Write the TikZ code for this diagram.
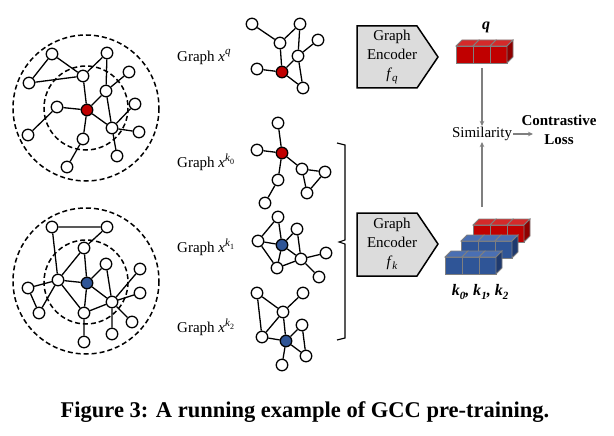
\documentclass[tikz,border=0pt]{standalone}
\usepackage{fontspec}
\setmainfont{Liberation Serif}
\usetikzlibrary{backgrounds,arrows.meta}
\definecolor{gcred}{HTML}{C00000}
\definecolor{gcredtop}{HTML}{D42A2A}
\definecolor{gcredside}{HTML}{8E0000}
\definecolor{gcblue}{HTML}{2F5597}
\definecolor{gcbluetop}{HTML}{4A6FB3}
\definecolor{gcblueside}{HTML}{1F3A6E}
\definecolor{encgray}{HTML}{DCDCDC}
\definecolor{arrgray}{HTML}{7F7F7F}
\newcommand\gcccuberow[6]{% x y front top side count
  \foreach \ci in {1,...,#6}{
    \pgfmathsetmacro\cx{#1+(\ci-1)*17}
    \filldraw[fill=#3,draw=arrgray,line width=0.8pt] (\cx,#2) rectangle ++(17,17);
    \filldraw[fill=#4,draw=arrgray,line width=0.8pt] (\cx,#2) -- ++(6,-6) -- ++(17,0) -- ++(-6,6) -- cycle;
  }
  \pgfmathsetmacro\ex{#1+#6*17}
  \filldraw[fill=#5,draw=arrgray,line width=0.8pt] (\ex,#2) -- ++(6,-6) -- ++(0,17) -- ++(-6,6) -- cycle;
}
\newcommand\gccx[2]{\textit{x}\raisebox{0.42em}{\fontsize{11}{11}\selectfont\textit{#1}\raisebox{-0.28em}{\fontsize{8}{8}\selectfont #2}}}
\newcommand\gccsub[2]{\textit{#1}\raisebox{-0.22em}{\fontsize{11}{11}\selectfont\textit{#2}}}
\newcommand\gcck[1]{\textbf{\textit{k}}\raisebox{-0.22em}{\fontsize{11}{11}\selectfont\textbf{\textit{#1}}}}
\tikzset{
  vtx/.style={circle,draw,line width=1.3pt,fill=white,inner sep=0pt,minimum size=11.5pt},
  rvtx/.style={vtx,fill=gcred},
  bvtx/.style={vtx,fill=gcblue},
  edg/.style={line width=1.3pt},
  ring/.style={dashed,dash pattern=on 5pt off 3pt,line width=1.5pt},
  lbl/.style={font=\fontsize{15}{18}\selectfont,anchor=west,inner sep=0pt},
  enc/.style={fill=encgray,draw=black,line width=1.5pt,line join=miter},
  enctext/.style={font=\fontsize{15}{19}\selectfont,align=center,inner sep=0pt},
  garr/.style={draw=arrgray,line width=1.2pt,-{Stealth[length=5pt,width=4.5pt]}},
}
\begin{document}
\begin{tikzpicture}[x=1pt,y=-1pt]
\useasboundingbox (0,0) rectangle (614,436);
% ---------- top-left graph ----------
\draw[ring] (86,108) circle (73);
\draw[ring] (86,108) circle (42);
\node[rvtx] (t0) at (87,110) {};
\node[vtx] (ta) at (52,54) {};
\node[vtx] (tb) at (107,53) {};
\node[vtx] (tc) at (29,83) {};
\node[vtx] (td) at (83,76) {};
\node[vtx] (te) at (129,72) {};
\node[vtx] (tf) at (106,91) {};
\node[vtx] (tg) at (57,107) {};
\node[vtx] (th) at (135,104) {};
\node[vtx] (ti) at (112,128) {};
\node[vtx] (tj) at (139,132) {};
\node[vtx] (tk) at (28,135) {};
\node[vtx] (tl) at (83,139) {};
\node[vtx] (tm) at (117,156) {};
\node[vtx] (tn) at (67,167) {};
\begin{scope}[on background layer]
\draw[edg] (ta)--(tc) (ta)--(td) (tc)--(td) (td)--(tb) (td)--(t0)
  (tb)--(tf) (tf)--(ti) (tf)--(te) (tf)--(t0) (t0)--(tg) (tg)--(tk)
  (t0)--(tl) (tl)--(tn) (t0)--(ti) (ti)--(th) (ti)--(tj) (ti)--(tm);
\end{scope}
% ---------- bottom-left graph ----------
\draw[ring] (86,281) circle (73);
\draw[ring] (86,282) circle (42);
\node[vtx] (bA) at (52,227) {};
\node[vtx] (bB) at (107,227) {};
\node[vtx] (bC) at (84,248) {};
\node[vtx] (bD) at (106,264) {};
\node[vtx] (bE) at (140,269) {};
\node[vtx] (bF) at (58,280) {};
\node[bvtx] (bG) at (87,283) {};
\node[vtx] (bH) at (28,288) {};
\node[vtx] (bI) at (140,293) {};
\node[vtx] (bJ) at (112,302) {};
\node[vtx] (bK) at (39,313) {};
\node[vtx] (bL) at (84,313) {};
\node[vtx] (bM) at (132,322) {};
\node[vtx] (bN) at (112,334) {};
\node[vtx] (bO) at (84,342) {};
\begin{scope}[on background layer]
\draw[edg] (bA)--(bB) (bA)--(bF) (bB)--(bC) (bC)--(bF) (bC)--(bG)
  (bF)--(bG) (bF)--(bH) (bH)--(bK) (bF)--(bK) (bF)--(bL) (bG)--(bL)
  (bG)--(bD) (bG)--(bJ) (bD)--(bJ) (bL)--(bJ) (bL)--(bO) (bJ)--(bE)
  (bJ)--(bI) (bJ)--(bM) (bJ)--(bN);
\end{scope}
% ---------- graph x^q ----------
\node[lbl] (lq) at (177,57) {Graph \gccx{q}{}};
\node[vtx] (q1) at (252,24) {};
\node[vtx] (q2) at (300,24) {};
\node[vtx] (q3) at (280,43) {};
\node[vtx] (q4) at (318,40) {};
\node[vtx] (q5) at (298,56) {};
\node[vtx] (q6) at (257,69) {};
\node[rvtx] (q0) at (282,72) {};
\node[vtx] (q8) at (303,88) {};
\begin{scope}[on background layer]
\draw[edg] (q1)--(q3) (q3)--(q2) (q2)--(q5) (q5)--(q4) (q3)--(q0)
  (q5)--(q0) (q6)--(q0) (q0)--(q8) (q5)--(q8);
\end{scope}
% ---------- graph x^k0 ----------
\node[lbl] (lk0) at (177,162) {Graph \gccx{k}{0}};
\node[vtx] (a1) at (278,123) {};
\node[vtx] (a2) at (257,150) {};
\node[rvtx] (a0) at (282,153) {};
\node[vtx] (a3) at (302,169) {};
\node[vtx] (a4) at (325,172) {};
\node[vtx] (a5) at (278,180) {};
\node[vtx] (a6) at (307,193) {};
\node[vtx] (a7) at (265,203) {};
\begin{scope}[on background layer]
\draw[edg] (a1)--(a0) (a2)--(a0) (a0)--(a3) (a3)--(a4) (a4)--(a6)
  (a3)--(a6) (a0)--(a5) (a5)--(a7);
\end{scope}
% ---------- graph x^k1 ----------
\node[lbl] (lk1) at (177,247) {Graph \gccx{k}{1}};
\node[vtx] (b1) at (278,217) {};
\node[vtx] (b2) at (297,229) {};
\node[vtx] (b3) at (258,241) {};
\node[bvtx] (b0) at (282,245) {};
\node[vtx] (b4) at (301,259) {};
\node[vtx] (b5) at (326,253) {};
\node[vtx] (b6) at (277,268) {};
\node[vtx] (b7) at (319,277) {};
\begin{scope}[on background layer]
\draw[edg] (b1)--(b3) (b1)--(b0) (b3)--(b0) (b3)--(b6) (b0)--(b6)
  (b0)--(b2) (b2)--(b4) (b0)--(b4) (b4)--(b5) (b4)--(b7) (b6)--(b4);
\end{scope}
% ---------- graph x^k2 ----------
\node[lbl] (lk2) at (177,327) {Graph \gccx{k}{2}};
\node[vtx] (c1) at (257,293) {};
\node[vtx] (c2) at (303,293) {};
\node[vtx] (c3) at (283,312) {};
\node[vtx] (c4) at (262,337) {};
\node[bvtx] (c0) at (286,341) {};
\node[vtx] (c5) at (302,325) {};
\node[vtx] (c6) at (306,356) {};
\node[vtx] (c7) at (282,365) {};
\begin{scope}[on background layer]
\draw[edg] (c1)--(c3) (c1)--(c4) (c3)--(c2) (c3)--(c4) (c3)--(c0)
  (c4)--(c0) (c0)--(c5) (c5)--(c6) (c0)--(c6) (c0)--(c7);
\end{scope}
% ---------- bracket ----------
\coordinate (br1) at (337,143);
\coordinate (br2) at (345,145);
\coordinate (br3) at (345,240);
\coordinate (br4) at (339,242);
\coordinate (br5) at (345,244);
\coordinate (br6) at (345,338);
\coordinate (br7) at (337,340);
\draw[line width=1.1pt] (br1)--(br2)--(br3)--(br4)--(br5)--(br6)--(br7);
% ---------- encoders ----------
\draw[enc] (357,26) -- (417,26) -- (438,57) -- (417,88) -- (357,88) -- cycle;
\node[enctext] (encq) at (392,57) {Graph\\Encoder\\\gccsub{f}{q}};
\draw[enc] (357,213) -- (417,213) -- (438,244) -- (417,276) -- (357,276) -- cycle;
\node[enctext] (enck) at (392,244) {Graph\\Encoder\\\gccsub{f}{k}};
% ---------- vectors ----------
\node[font=\fontsize{16}{18}\selectfont\bfseries\itshape,inner sep=0pt] (qlab) at (486,27) {q};
\gcccuberow{456}{46}{gcred}{gcredtop}{gcredside}{3}
\gcccuberow{473}{225}{gcred}{gcredtop}{gcredside}{3}
\gcccuberow{461}{241}{gcblue}{gcbluetop}{gcblueside}{3}
\gcccuberow{445}{257}{gcblue}{gcbluetop}{gcblueside}{3}
\node[font=\fontsize{16}{18}\selectfont,inner sep=0pt] (klab) at (480,292) {\gcck{0}\textbf{\textit{, }}\gcck{1}\textbf{\textit{, }}\gcck{2}};
% ---------- similarity ----------
\node[font=\fontsize{15}{18}\selectfont,inner sep=1pt] (sim) at (482,134) {Similarity};
\node[font=\fontsize{15}{19}\selectfont\bfseries,align=center,inner sep=0pt] (loss) at (559,130) {Contrastive\\Loss};
\coordinate (qbot) at (482,68);
\coordinate (ktop) at (482,207);
\coordinate (lossin) at (533,134);
\draw[garr] (qbot) -- (sim.north);
\draw[garr] (ktop) -- (sim.south);
\draw[garr] (sim.east) -- (lossin);
% ---------- caption ----------
\node[font=\fontsize{22.5}{26}\selectfont\bfseries,inner sep=0pt] (cap) at (305,412) {Figure 3: A running example of GCC pre-training.};
\end{tikzpicture}
\end{document}
